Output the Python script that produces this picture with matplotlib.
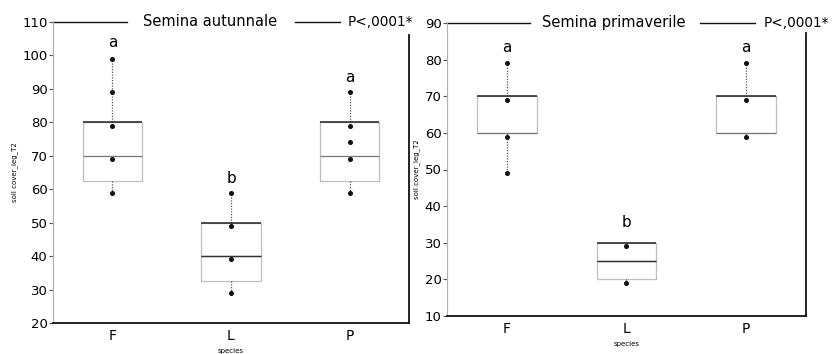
import matplotlib
matplotlib.use("Agg")
import matplotlib.pyplot as plt
from matplotlib.lines import Line2D

categories = ["F", "L", "P"]

# Semina autunnale
aut_points = [[99, 89, 79, 69, 59], [59, 49, 39, 29], [89, 79, 74, 69, 59]]
aut_q1 = [62.5, 32.5, 62.5]
aut_med = [70, 40, 70]
aut_q3 = [80, 50, 80]
aut_letters = ["a", "b", "a"]
aut_letter_y = [104, 63.3, 93.3]

# Semina primaverile
pri_points = [[79, 69, 59, 49], [29, 19], [79, 69, 59]]
pri_q1 = [60, 20, 60]
pri_med = [60, 25, 60]
pri_q3 = [70, 30, 70]
pri_letters = ["a", "b", "a"]
pri_letter_y = [83.2, 35.6, 83.2]

aut_yticks = [20, 30, 40, 50, 60, 70, 80, 90, 100, 110]
pri_yticks = [10, 20, 30, 40, 50, 60, 70, 80, 90]

W, H = 833, 354
fig = plt.figure(figsize=(W / 100, H / 100), dpi=100)
plt.rcParams['font.family'] = ['DejaVu Sans']


def panel(rect, points, q1, med, q3, letters, letter_y, yticks, title, title_geom):
    ax = fig.add_axes(rect)
    stats = []
    for i, c in enumerate(categories):
        stats.append(dict(label=c, med=med[i], q1=q1[i], q3=q3[i],
                          whislo=min(points[i]), whishi=max(points[i]), fliers=[]))
    ax.bxp(stats, positions=range(len(categories)), widths=0.5, showcaps=False,
           boxprops=dict(color="#9a9a9a", linewidth=0.9, linestyle=(0, (1, 0.6))),
           whiskerprops=dict(color="#555555", linewidth=0.9, linestyle=(0, (1, 1.2))),
           medianprops=dict(color="#777777", linewidth=0.9))
    # darker top edge of boxes, darker median for L
    for i in range(len(categories)):
        ax.hlines(q3[i], i - 0.25, i + 0.25, color="#222222", linewidth=1.1)
    ax.hlines(med[1], 0.75, 1.25, color="#333333", linewidth=1.0, zorder=4)
    for i, pts in enumerate(points):
        ax.plot([i] * len(pts), pts, 'o', color="#111111", markersize=2.6, zorder=5)
        ax.text(i, letter_y[i], letters[i], ha="center", va="center", fontsize=11)
    ax.set_xlim(-0.5, 2.5)
    ax.set_ylim(yticks[0], yticks[-1])
    ax.set_yticks(yticks)
    ax.set_xticks(range(len(categories)))
    ax.set_xticklabels(categories)
    ax.tick_params(axis="y", length=3, width=0.8, labelsize=9.5, pad=1, color="#555555")
    ax.tick_params(axis="x", length=0, labelsize=10, pad=4)
    ax.spines["top"].set_visible(False)
    ax.spines["right"].set_visible(False)
    ax.spines["left"].set_color("#b0b0b0")
    ax.spines["left"].set_linewidth(0.8)
    ax.spines["bottom"].set_color("#111111")
    ax.spines["bottom"].set_linewidth(1.3)
    l1, tc, l2a, l2b, px, rtop = title_geom
    ax.add_line(Line2D([0, l1], [1, 1], transform=ax.transAxes, color="#111111",
                       linewidth=1.0, clip_on=False))
    ax.add_line(Line2D([l2a, l2b], [1, 1], transform=ax.transAxes, color="#111111",
                       linewidth=1.0, clip_on=False))
    ax.add_line(Line2D([1, 1], [0, rtop], transform=ax.transAxes, color="#111111",
                       linewidth=1.3, clip_on=False))
    ax.text(tc, 1, title, transform=ax.transAxes, ha="center", va="center", fontsize=10.5)
    ax.text(px, 1, "P<,0001*", transform=ax.transAxes, ha="left", va="center", fontsize=9.8)
    ax.set_ylabel("soil cover_leg_T2", fontsize=5, labelpad=3)
    ax.set_xlabel("species", fontsize=5, labelpad=4)
    return ax


panel([53 / W, (H - 323) / H, 356 / W, 301 / H], aut_points, aut_q1, aut_med, aut_q3,
      aut_letters, aut_letter_y, aut_yticks, "Semina autunnale",
      (0.208, 0.44, 0.68, 0.806, 0.829, 0.957))
panel([447 / W, (H - 316) / H, 359 / W, 293 / H], pri_points, pri_q1, pri_med, pri_q3,
      pri_letters, pri_letter_y, pri_yticks, "Semina primaverile",
      (0.231, 0.465, 0.705, 0.858, 0.881, 0.966))

fig.savefig("out.png", dpi=100)
